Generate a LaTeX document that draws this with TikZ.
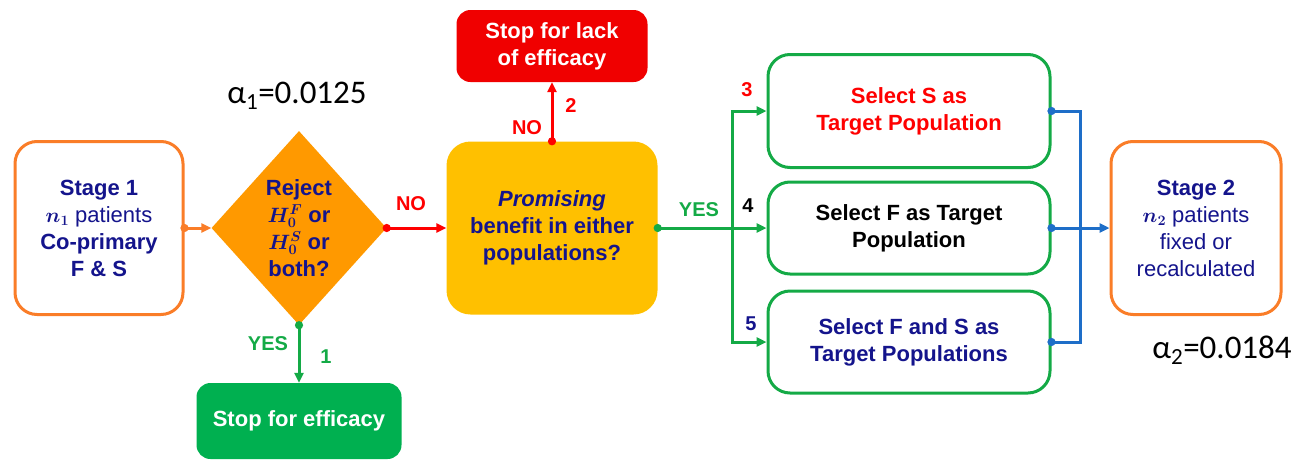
\documentclass[tikz,border=0pt]{standalone}
\usepackage{fontspec}
\setmainfont{Liberation Sans}
\newfontfamily\calfont{Carlito}
\usepackage{amsmath,bm}
\usetikzlibrary{arrows.meta,shapes.geometric}
\definecolor{navy}{RGB}{20,20,140}
\definecolor{gbox}{RGB}{0,176,80}
\definecolor{gline}{RGB}{20,170,70}
\definecolor{oline}{RGB}{250,125,40}
\definecolor{ofill}{RGB}{255,153,0}
\definecolor{yfill}{RGB}{255,192,0}
\definecolor{rfill}{RGB}{240,0,0}
\definecolor{bline}{RGB}{30,110,200}
\newcommand\boxfont{\bfseries\fontsize{22}{27}\selectfont}
\newcommand\lblfont{\bfseries\fontsize{20}{24}\selectfont}
\newcommand\alphafont{\calfont\fontsize{33}{38}\selectfont}
\tikzset{
  blk/.style={draw=#1, line width=3pt, rounded corners=22pt, fill=white, align=center, inner sep=0pt, font=\boxfont},
  blk/.default=gline,
  sbox/.style={fill=#1, rounded corners=14pt, align=center, inner sep=0pt, font=\boxfont, text=white},
  lbl/.style={font=\lblfont, inner sep=0pt},
  arr/.style={line width=3pt, -{Triangle[length=10pt,width=9pt]}},
  dot/.style={{Circle[length=8pt]}-{Triangle[length=10pt,width=9pt]}, shorten <=-4pt},
  dotl/.style={line width=3pt, {Circle[length=8pt]}-, shorten <=-4pt},
}
\begin{document}
\begin{tikzpicture}[x=1pt,y=-1pt]
  \useasboundingbox (0,0) rectangle (1304,461);
  % stage 1 and interim decision
  \node[blk=oline, text=navy, minimum width=168pt, minimum height=173pt] (st1) at (99,228)
    {Stage 1\\ {\mdseries $\bm{n_1}$ patients}\\ Co-primary\\ F \& S};
  \node[diamond, fill=ofill, inner sep=0pt, minimum width=175pt, minimum height=194pt, align=center, font=\boxfont, text=navy] (dec) at (299,228)
    {Reject\\ $\bm{H_0^F}$ or\\ $\bm{H_0^S}$ or\\ both?};
  \node[sbox=gbox, minimum width=205pt, minimum height=76pt] (eff) at (299,421) {Stop for efficacy};
  \node[sbox=yfill, rounded corners=24pt, text=navy, minimum width=211pt, minimum height=173pt] (prom) at (552,228)
    {\textit{Promising}\\ benefit in either\\ populations?};
  \node[sbox=rfill, minimum width=191pt, minimum height=72pt] (lack) at (552,46) {Stop for lack\\ of efficacy};
  % adaptation choices
  \node[blk, text=red, minimum width=282pt, minimum height=113pt] (selS) at (909,111) {Select S as\\ Target Population};
  \node[blk, text=black, minimum width=282pt, minimum height=92pt] (selF) at (909,228) {Select F as Target\\ Population};
  \node[blk, text=navy, minimum width=282pt, minimum height=102pt] (selFS) at (909,342) {Select F and S as\\ Target Populations};
  \node[blk=oline, text=navy, minimum width=170pt, minimum height=173pt] (st2) at (1196,228)
    {Stage 2\\ {\mdseries $\bm{n_2}$ patients}\\ {\mdseries fixed or}\\ {\mdseries recalculated}};
  \node[font=\alphafont, inner sep=0pt] (a1) at (297,96) {α\textsubscript{1}=0.0125};
  \node[font=\alphafont, inner sep=0pt] (a2) at (1222,350) {α\textsubscript{2}=0.0184};
  % connectors
  \draw[arr, dot, oline] (st1.east) -- (dec.west);
  \draw[arr, dot, red] (dec.east) -- (prom.west);
  \draw[arr, dot, gline] (dec.south) -- (eff.north);
  \draw[arr, dot, red] (prom.north) -- (lack.south);
  \coordinate (sp) at (732,228);
  \draw[dotl, gline] (prom.east) -- (sp);
  \draw[arr, gline] (sp) |- (selS.west);
  \draw[arr, gline] (sp) -- (selF.west);
  \draw[arr, gline] (sp) |- (selFS.west);
  \coordinate (jn) at (1080,228);
  \draw[dotl, bline] (selS.east) -| (jn);
  \draw[dotl, bline] (selFS.east) -| (jn);
  \draw[arr, dot, bline] (selF.east) -- (st2.west);
  % labels
  \node[lbl, text=red] (no1) at (411,204) {NO};
  \node[lbl, text=red] (no2) at (527,128) {NO};
  \node[lbl, text=red] (n2) at (571,106) {2};
  \node[lbl, text=gline] (yes1) at (268,344) {YES};
  \node[lbl, text=gline] (n1) at (326,357) {1};
  \node[lbl, text=gline] (yes2) at (699,210) {YES};
  \node[lbl, text=red] (n3) at (747,90) {3};
  \node[lbl, text=black] (n4) at (748,206) {4};
  \node[lbl, text=navy] (n5) at (751,324) {5};
\end{tikzpicture}
\end{document}
